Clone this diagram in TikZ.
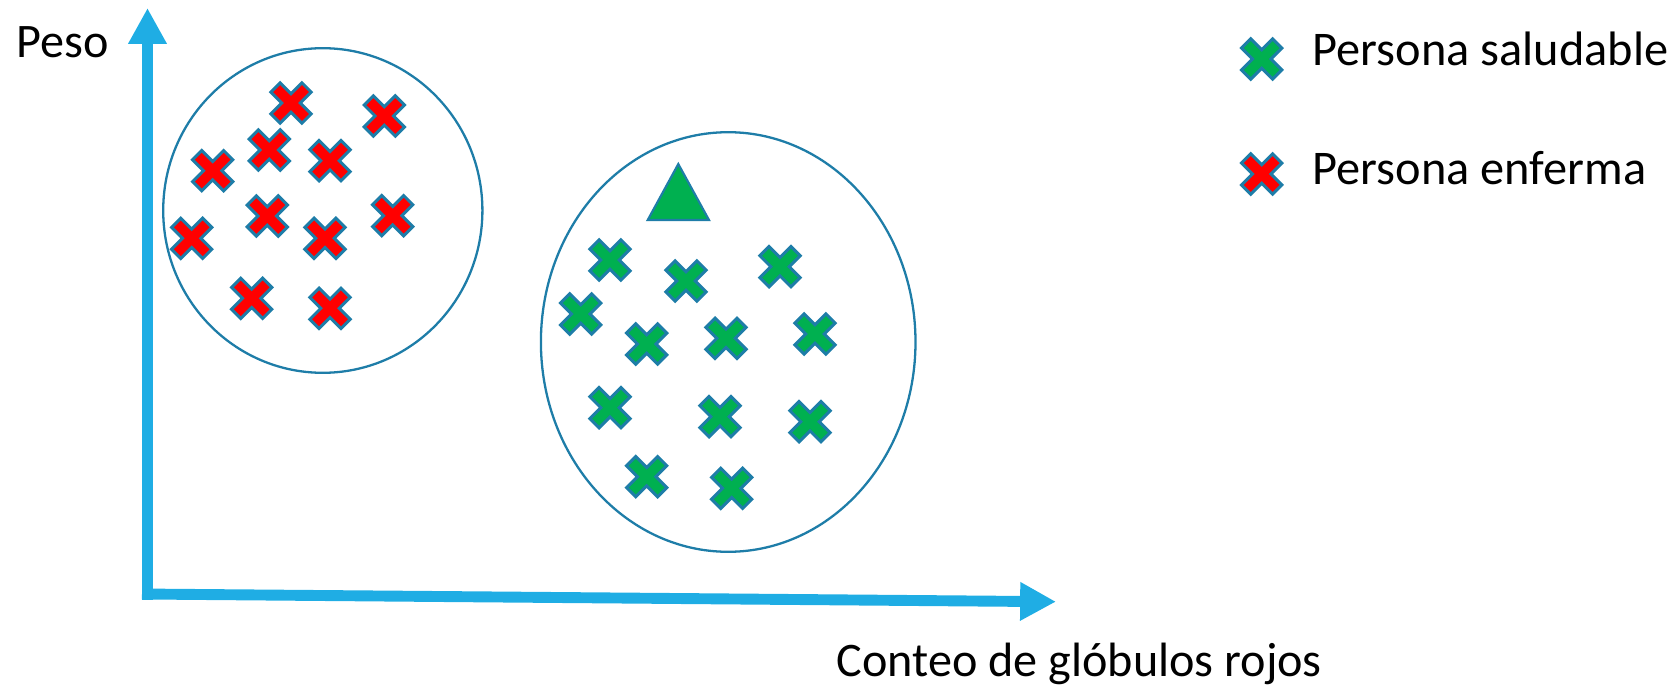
\documentclass[tikz,border=0pt]{standalone}
\usepackage{fontspec}
\setmainfont{Carlito}
\usetikzlibrary{arrows.meta}
\definecolor{axisblue}{RGB}{31,173,228}
\definecolor{edgeblue}{RGB}{30,125,168}
\definecolor{okgreen}{RGB}{0,176,80}
\definecolor{badred}{RGB}{255,0,0}
\tikzset{
  pics/xcross/.style={code={
    \filldraw[line width=0.85pt, draw=edgeblue, fill=#1, line join=miter, rotate=45]
      (22,6.5) -- (6.5,6.5) -- (6.5,22) -- (-6.5,22) -- (-6.5,6.5) -- (-22,6.5)
      -- (-22,-6.5) -- (-6.5,-6.5) -- (-6.5,-22) -- (6.5,-22) -- (6.5,-6.5) -- (22,-6.5) -- cycle;
  }},
  axisline/.style={draw=axisblue, line width=3.1pt, line cap=butt,
    -{Triangle[length=10.2pt,width=10.3pt]}},
  cluster/.style={draw=edgeblue, line width=0.65pt},
  axislabel/.style={anchor=base west, inner sep=0pt, font=\fontsize{13.7pt}{15pt}\selectfont},
  legendlabel/.style={anchor=base west, inner sep=0pt, font=\fontsize{13.75pt}{15pt}\selectfont},
}
\begin{document}
\begin{tikzpicture}[x=0.01cm, y=-0.01cm]
\useasboundingbox (0,0) rectangle (1670,688);
% clusters
\draw[cluster] (322.8,210.5) ellipse [x radius=159.6, y radius=162.3];
\draw[cluster] (728.2,342) ellipse [x radius=187.3, y radius=209.8];
% axes
\coordinate (vbot) at (147.5,599.5);
\coordinate (vtop) at (147.5,8);
\coordinate (hleft) at (142,594);
\coordinate (htip) at (1056,601.7);
\draw[axisline] (vbot) -- (vtop);
\draw[axisline] (hleft) -- (htip);
% labels
\node[axislabel] (peso) at (16,57.3) {Peso};
\node[axislabel] (conteo) at (836,676.7) {Conteo de glóbulos rojos};
% red crosses
\pic at (291,103) {xcross=badred};
\pic at (384.3,116) {xcross=badred};
\pic at (269.3,150) {xcross=badred};
\pic at (330,160.7) {xcross=badred};
\pic at (212.7,170.7) {xcross=badred};
\pic at (267.3,216) {xcross=badred};
\pic at (392.7,215.7) {xcross=badred};
\pic at (191.7,238.3) {xcross=badred};
\pic at (325,238.3) {xcross=badred};
\pic at (251.7,298.3) {xcross=badred};
\pic at (330,308.3) {xcross=badred};
% green crosses
\pic at (610,260) {xcross=okgreen};
\pic at (686,281) {xcross=okgreen};
\pic at (780,266.7) {xcross=okgreen};
\pic at (580.7,314) {xcross=okgreen};
\pic at (646.7,344) {xcross=okgreen};
\pic at (726,338.3) {xcross=okgreen};
\pic at (815,334) {xcross=okgreen};
\pic at (610,407.7) {xcross=okgreen};
\pic at (720,416.7) {xcross=okgreen};
\pic at (810,421.7) {xcross=okgreen};
\pic at (646.7,476.7) {xcross=okgreen};
\pic at (731.7,488.3) {xcross=okgreen};
% query point
\filldraw[draw=edgeblue, fill=okgreen, line width=0.6pt, line join=miter]
  (678.3,164) -- (709,220) -- (647.7,220) -- cycle;
% legend
\pic at (1261.7,59) {xcross=okgreen};
\pic at (1261.7,174) {xcross=badred};
\node[legendlabel] (lsano) at (1312,65.7) {Persona saludable};
\node[legendlabel] (lenfermo) at (1312,184.3) {Persona enferma};
\end{tikzpicture}
\end{document}
